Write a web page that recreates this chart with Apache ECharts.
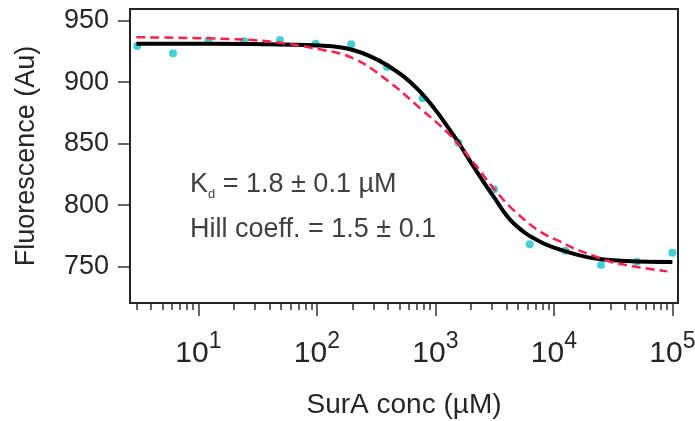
<!DOCTYPE html>
<html>
<head>
<meta charset="utf-8">
<script src="https://cdn.jsdelivr.net/npm/echarts@6/dist/echarts.min.js"></script>
<style>
  html, body { margin: 0; padding: 0; background: #fff; }
  #chart { width: 695px; height: 421px; }
</style>
</head>
<body>
<div id="chart"></div>
<script>
// measured points (SurA conc in µM, fluorescence in Au)
const conc = [3.05, 6.10, 12.2, 24.4, 48.8, 97.7, 195, 391, 781, 1563, 3125, 6250, 12500, 25000, 50000, 100000]
const fluor = [929.4, 923.5, 934.1, 933.3, 934.3, 931.3, 930.8, 912.4, 886.9, 850.8, 812.9, 768.2, 763.0, 751.4, 754.1, 761.4]

// solid black fit
const fitX = [3.0, 27, 106, 202, 389, 743, 1420, 2100, 3100, 4570, 7670, 12900, 21700, 41500, 100000]
const fitY = [931.3, 931.0, 929.8, 926.2, 914.0, 892.3, 857.0, 831.3, 806.9, 785.3, 770.3, 762.2, 756.8, 754.6, 753.8]

// red dashed fit
const dashX = [3.0, 15.1, 40.1, 106, 203, 389, 743, 1330, 2100, 3100, 4570, 7670, 11350, 14700, 21700, 30000, 48800, 90400]
const dashY = [936.5, 935.4, 933.0, 926.7, 919.4, 901.8, 878.8, 857.0, 834.7, 813.7, 796.0, 778.5, 770.3, 765.0, 758.8, 754.1, 750.0, 746.2]

const xMin = 2.65
const xMax = 111500
const yMin = 720.5
const yMax = 959.5
const xExponents = [1, 2, 3, 4, 5]
const yTicks = [750, 800, 850, 900, 950]

const font = '"Liberation Sans", Arial, Helvetica, sans-serif'
const axisColor = '#333'
const textColor = '#262626'

const lg = Math.log10
const majorTicks = xExponents.map(e => e)
const minorTicks = []
for (let e = 0; e <= 5; e++) {
  for (let k = 2; k <= 9; k++) {
    const v = k * Math.pow(10, e)
    if (v >= xMin && v <= xMax) minorTicks.push(lg(v))
  }
}

const pair = (xs, ys) => xs.map((x, i) => [lg(x), ys[i]])

const gridBox = { left: 130, top: 9, width: 548, height: 294 }

const chart = echarts.init(document.getElementById('chart'))
chart.setOption({
  animation: false,
  backgroundColor: '#fff',
  textStyle: { fontFamily: font },
  grid: {
    left: gridBox.left, top: gridBox.top, width: gridBox.width, height: gridBox.height,
    show: false,
    outerBoundsMode: 'none'
  },
  xAxis: [
    {
      type: 'value',
      min: lg(xMin),
      max: lg(xMax),
      position: 'bottom',
      name: 'SurA conc (µM)',
      nameLocation: 'middle',
      nameGap: 88,
      nameTextStyle: { fontSize: 28, color: textColor, fontFamily: font },
      splitLine: { show: false },
      axisLine: { show: true, lineStyle: { color: axisColor, width: 1.5 } },
      axisTick: { show: true, inside: false, length: 13, customValues: majorTicks, lineStyle: { color: axisColor, width: 1.5 } },
      axisLabel: {
        customValues: majorTicks,
        margin: 27,
        formatter: v => '{b|10}{s|' + Math.round(v) + '}',
        rich: {
          b: { fontSize: 30, lineHeight: 48, color: textColor, fontFamily: font },
          s: { fontSize: 23, lineHeight: 23, verticalAlign: 'top', color: textColor, fontFamily: font }
        }
      }
    },
    {
      type: 'value',
      min: lg(xMin),
      max: lg(xMax),
      position: 'bottom',
      splitLine: { show: false },
      axisLine: { show: false },
      axisLabel: { show: false },
      axisTick: { show: true, inside: false, length: 7, customValues: minorTicks, lineStyle: { color: axisColor, width: 1.5 } }
    }
  ],
  yAxis: {
    type: 'value',
    min: yMin,
    max: yMax,
    name: 'Fluorescence (Au)',
    nameLocation: 'middle',
    nameGap: 90,
    nameTextStyle: { fontSize: 27, color: textColor, fontFamily: font },
    splitLine: { show: false },
    axisLine: { show: true, lineStyle: { color: axisColor, width: 1.5 } },
    axisTick: { show: true, inside: false, length: 12, customValues: yTicks, lineStyle: { color: axisColor, width: 1.5 } },
    axisLabel: { customValues: yTicks, fontSize: 27, margin: 21, color: textColor, fontFamily: font }
  },
  graphic: [
    {
      // plot frame
      type: 'rect',
      silent: true,
      z: 10,
      shape: { x: gridBox.left, y: gridBox.top, width: gridBox.width, height: gridBox.height },
      style: { fill: 'transparent', stroke: '#222', lineWidth: 2 }
    },
    {
      type: 'text',
      left: 190,
      top: 171,
      style: {
        text: '{m|K}{d|d}{m| = 1.8 ± 0.1 µM}',
        rich: {
          m: { fontSize: 27, lineHeight: 32, fill: '#404040', fontFamily: font },
          d: { fontSize: 13, lineHeight: 13, verticalAlign: 'bottom', fill: '#404040', fontFamily: font }
        }
      }
    },
    {
      type: 'text',
      left: 190,
      top: 216,
      style: {
        text: 'Hill coeff. = 1.5 ± 0.1',
        font: '27px ' + font,
        fill: '#404040'
      }
    }
  ],
  series: [
    {
      type: 'scatter',
      data: pair(conc, fluor),
      symbolSize: 8,
      itemStyle: { color: '#14c4c8' },
      z: 1
    },
    {
      type: 'line',
      data: pair(fitX, fitY),
      showSymbol: false,
      smooth: 0.4,
      lineStyle: { color: '#000', width: 4 },
      z: 2
    },
    {
      type: 'line',
      data: pair(dashX, dashY),
      showSymbol: false,
      smooth: 0.4,
      lineStyle: { color: '#ff1f4f', width: 2.5, type: [9, 5] },
      z: 3
    }
  ]
})
</script>
</body>
</html>
